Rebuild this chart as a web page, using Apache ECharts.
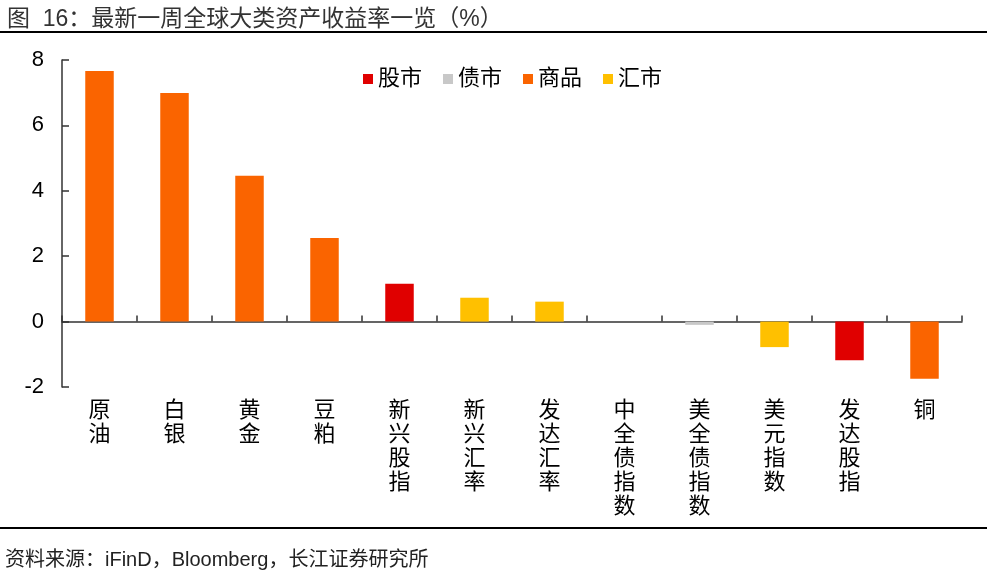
<!DOCTYPE html>
<html style="height: 100%">
<head>
<meta charset="utf-8">
</head>
<body style="height: 100%; margin: 0; background: #fff">
<div id="container" style="width: 987px; height: 574px"></div>
<script type="text/javascript" src="https://cdn.jsdelivr.net/npm/echarts@6/dist/echarts.min.js"></script>
<script type="text/javascript">
var categories = ['原油', '白银', '黄金', '豆粕', '新兴股指', '新兴汇率', '发达汇率', '中全债指数', '美全债指数', '美元指数', '发达股指', '铜'];
var values = [7.66, 6.99, 4.46, 2.56, 1.16, 0.73, 0.61, 0.0, -0.1, -0.78, -1.18, -1.75];
var groups = ['商品', '商品', '商品', '商品', '股市', '汇市', '汇市', '债市', '债市', '汇市', '股市', '商品'];
var groupNames = ['股市', '债市', '商品', '汇市'];
var groupColors = ['#e00000', '#c8c8c8', '#fa6400', '#ffc000'];

var FONT = '"Liberation Sans", Arial, "Noto Sans CJK SC", sans-serif';
var dom = document.getElementById('container');
var myChart = echarts.init(dom);

// one series per asset class so the legend works; nulls elsewhere
var series = groupNames.map(function (g, gi) {
    return {
        name: g,
        type: 'bar',
        stack: 'all',
        barWidth: '38%',
        xAxisIndex: 0,
        itemStyle: { color: groupColors[gi] },
        data: values.map(function (v, i) {
            return groups[i] === g ? v : null;
        })
    };
});

var option = {
    animation: false,
    backgroundColor: '#fff',
    textStyle: { fontFamily: FONT },
    title: [{
        text: '图  16：最新一周全球大类资产收益率一览（%）',
        left: 2,
        top: 3,
        textStyle: { fontSize: 23, fontWeight: 'normal', color: '#333', fontFamily: FONT }
    }, {
        text: '资料来源：iFinD，Bloomberg，长江证券研究所',
        left: 0,
        top: 545,
        textStyle: { fontSize: 20, fontWeight: 'normal', color: '#222', fontFamily: FONT }
    }],
    graphic: [
        { type: 'rect', shape: { x: 0, y: 31, width: 987, height: 2 }, style: { fill: '#000' } },
        { type: 'rect', shape: { x: 0, y: 527, width: 987, height: 2 }, style: { fill: '#000' } }
    ],
    legend: {
        data: groupNames,
        left: 358,
        top: 63,
        itemWidth: 10,
        itemHeight: 10,
        itemGap: 21,
        icon: 'rect',
        textStyle: { fontSize: 22, color: '#000', fontFamily: FONT }
    },
    grid: { left: 62, right: 25, top: 60, bottom: 187, containLabel: false },
    xAxis: [{
        type: 'category',
        data: categories,
        axisLine: { onZero: true, lineStyle: { color: '#333', width: 1.5 } },
        axisTick: { show: true, inside: true, interval: 0, length: 6, lineStyle: { color: '#333', width: 1.5 } },
        axisLabel: { show: false },
        splitLine: { show: false }
    }, {
        // labels sit at the bottom of the plot, not on the zero line
        type: 'category',
        data: categories,
        position: 'bottom',
        gridIndex: 0,
        axisLine: { show: false, onZero: false },
        axisTick: { show: false },
        axisLabel: {
            show: true,
            interval: 0,
            margin: 12,
            fontSize: 22,
            lineHeight: 24,
            color: '#000',
            verticalAlign: 'top',
            fontFamily: FONT,
            formatter: function (v) { return v.split('').join('\n'); }
        }
    }],
    yAxis: {
        type: 'value',
        min: -2,
        max: 8,
        interval: 2,
        axisLine: { show: true, lineStyle: { color: '#333', width: 1.5 } },
        axisTick: { show: true, inside: true, length: 7, lineStyle: { color: '#333', width: 1.5 } },
        axisLabel: { fontSize: 22, color: '#000', margin: 18, fontFamily: FONT },
        splitLine: { show: false }
    },
    series: series
};

myChart.setOption(option);
</script>
</body>
</html>
